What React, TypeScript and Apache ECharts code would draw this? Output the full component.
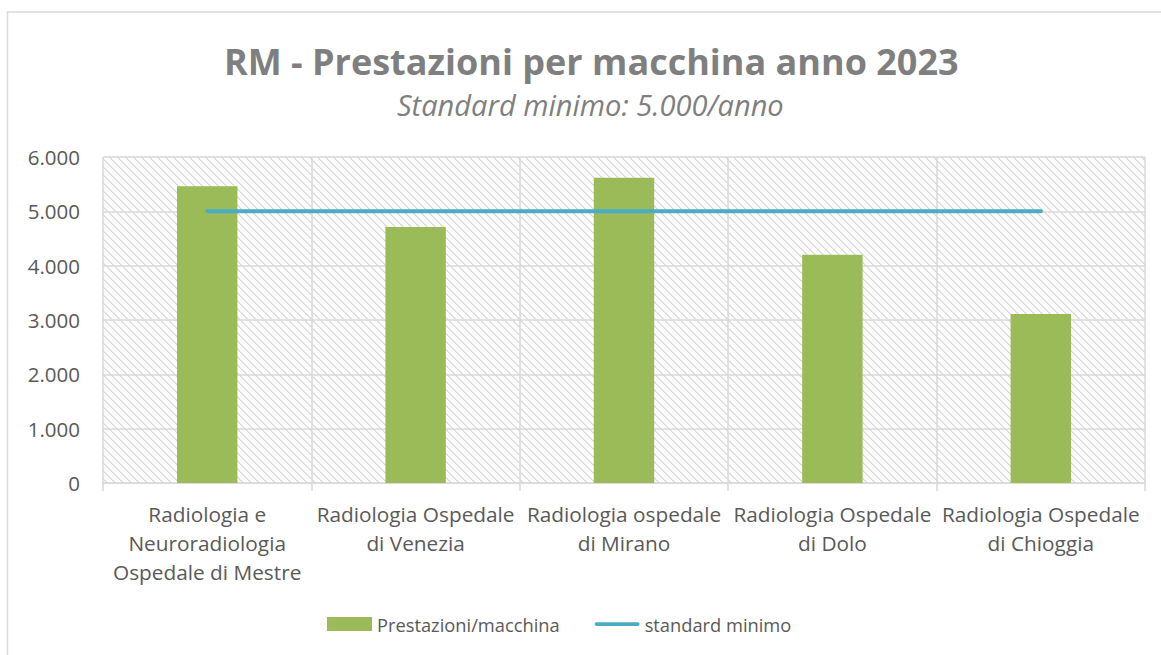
import React, { useEffect, useRef } from "react";
import * as echarts from "echarts";

const categories = [
  "Radiologia e\nNeuroradiologia\nOspedale di Mestre",
  "Radiologia Ospedale\ndi Venezia",
  "Radiologia ospedale\ndi Mirano",
  "Radiologia Ospedale\ndi Dolo",
  "Radiologia Ospedale\ndi Chioggia",
];
const prestazioni = [5460, 4710, 5620, 4200, 3110];
const standardMinimo = [5000, 5000, 5000, 5000, 5000];
const yTicks = { min: 0, max: 6000, interval: 1000 };

const FONT = "'Open Sans', sans-serif";

function makeHatch() {
  const c = document.createElement("canvas");
  c.width = 8;
  c.height = 8;
  const ctx = c.getContext("2d")!;
  ctx.fillStyle = "#ffffff";
  ctx.fillRect(0, 0, 8, 8);
  for (let i = 0; i < 8; i++) {
    ctx.fillStyle = "#d6d6d6";
    ctx.fillRect(i, i, 1, 1);
    ctx.fillStyle = "#e6e6e6";
    ctx.fillRect((i + 1) % 8, i, 1, 1);
  }
  return c;
}

export default function App() {
  const ref = useRef<HTMLDivElement>(null);
  useEffect(() => {
    if (!ref.current) return;
    const chart = echarts.init(ref.current, undefined, { renderer: "svg" });
    const hatch = makeHatch();
    chart.setOption({
      animation: false,
      backgroundColor: "#ffffff",
      textStyle: { fontFamily: FONT },
      title: [
        {
          text: "RM - Prestazioni per macchina anno 2023",
          left: 219,
          top: 38,
          textStyle: { fontFamily: FONT, fontSize: 36, fontWeight: "bold", color: "#7f7f7f" },
        },
        {
          text: "Standard minimo: 5.000/anno",
          left: 392,
          top: 85,
          textStyle: { fontFamily: FONT, fontSize: 29, fontStyle: "italic", fontWeight: "normal", color: "#7f7f7f" },
        },
      ],
      graphic: [
        {
          type: "rect",
          shape: { x: 7.5, y: 12, width: 1200, height: 700 },
          style: { fill: "none", stroke: "#d9d9d9", lineWidth: 1.5 },
          silent: true,
          z: -10,
        },
      ],
      legend: {
        left: 327,
        top: 615,
        padding: 0,
        itemWidth: 45,
        itemHeight: 14,
        itemGap: 35,
        textStyle: { fontFamily: FONT, fontSize: 18.3, color: "#595959" },
        data: [
          { name: "Prestazioni/macchina", icon: "rect" },
          { name: "standard minimo", icon: "path://M2,0 L46,0 A2,2 0 0 1 46,4 L2,4 A2,2 0 0 1 2,0 Z" },
        ],
      },
      grid: {
        left: 103,
        right: 16,
        top: 157,
        bottom: 172,
        show: true,
        borderWidth: 0,
        backgroundColor: { image: hatch, repeat: "repeat", imageWidth: 8, imageHeight: 8 } as any,
      },
      xAxis: {
        type: "category",
        data: categories,
        axisLine: { show: true, lineStyle: { color: "#d9d9d9", width: 1.5 } },
        axisTick: { show: true, length: 8, lineStyle: { color: "#d9d9d9", width: 1.5 } },
        splitLine: { show: true, lineStyle: { color: "#d9d9d9", width: 1.5 } },
        axisLabel: {
          fontFamily: FONT,
          fontSize: 20.8,
          color: "#595959",
          lineHeight: 29,
          margin: 16,
          interval: 0,
        },
      },
      yAxis: {
        type: "value",
        min: yTicks.min,
        max: yTicks.max,
        interval: yTicks.interval,
        axisLine: { show: false },
        axisTick: { show: false },
        splitLine: { show: true, lineStyle: { color: "#d9d9d9", width: 1.5 } },
        axisLabel: {
          fontFamily: FONT,
          fontSize: 20.5,
          color: "#595959",
          margin: 23,
          formatter: (v: number) => (v === 0 ? "0" : v.toLocaleString("de-DE")),
        },
      },
      series: [
        {
          name: "Prestazioni/macchina",
          type: "bar",
          data: prestazioni,
          barWidth: "29%",
          itemStyle: { color: "#9bbb59" },
        },
        {
          name: "standard minimo",
          type: "line",
          data: standardMinimo,
          symbol: "none",
          lineStyle: { color: "#4bacc6", width: 4, cap: "round" },
          itemStyle: { color: "#4bacc6" },
        },
      ],
    });
    return () => chart.dispose();
  }, []);
  return (
    <div
      ref={ref}
      style={{ position: "fixed", left: 0, top: 0, width: 1161, height: 655 }}
    />
  );
}
